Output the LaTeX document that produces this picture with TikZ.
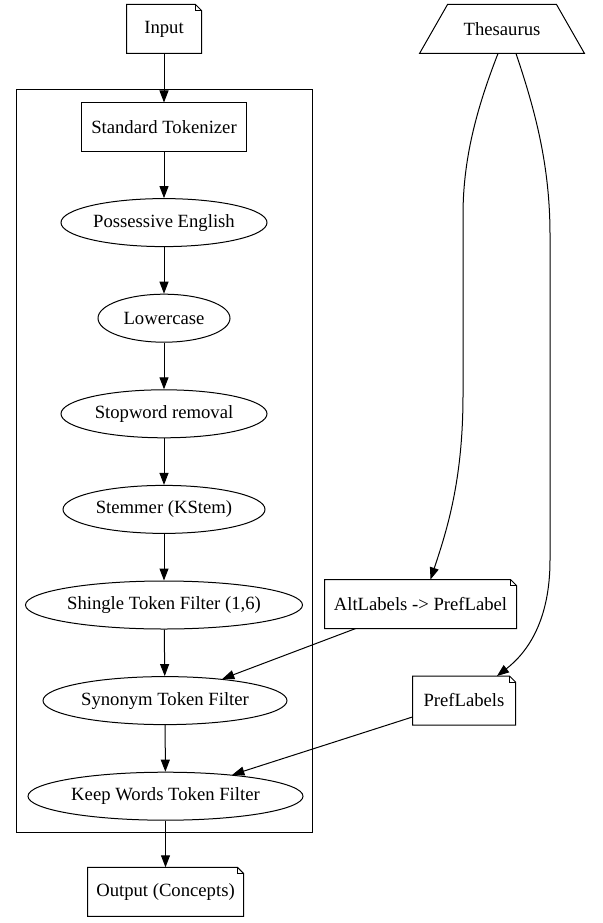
\documentclass[tikz,border=0pt]{standalone}
\usepackage{fontspec}
\setmainfont{Liberation Serif}
\usepackage{tikz}
\usetikzlibrary{
    arrows.meta,
    shapes.geometric
}

\begin{document}
\begin{tikzpicture}[x=1pt,y=-1pt,line width=1pt,
    every node/.style={font=\fontsize{18.67}{22}\selectfont},
    box/.style={draw,rectangle,minimum height=48pt,inner sep=0pt},
    doc/.style={rectangle,minimum height=48pt,inner sep=0pt},
    oval/.style={draw,ellipse,minimum height=48pt,inner sep=0pt},
    edge/.style={-{Triangle[length=12pt,width=9pt]}}]
\useasboundingbox[fill=white] (0,0) rectangle (602,923);

% pipeline
\draw (16,90) rectangle (312,832);

\node[doc,minimum width=74pt] (input) at (164,29) {Input};
\node[box,minimum width=165pt] (tok) at (164,127) {Standard Tokenizer};
\node[oval,minimum width=206pt] (poss) at (164,222.6) {Possessive English};
\node[oval,minimum width=132pt] (lower) at (164,318.2) {Lowercase};
\node[oval,minimum width=206pt] (stop) at (164,413.8) {Stopword removal};
\node[oval,minimum width=202pt] (stem) at (164,509.4) {Stemmer (KStem)};
\node[oval,minimum width=277pt] (shingle) at (164,605) {Shingle Token Filter (1,6)};
\node[oval,minimum width=244pt] (syn) at (165,700.6) {Synonym Token Filter};
\node[oval,minimum width=275pt] (keep) at (165.5,796.2) {Keep Words Token Filter};
\node[doc,minimum width=155pt] (output) at (165.5,891.8) {Output (Concepts)};

% thesaurus side
\node[doc,minimum width=164pt] (thes) at (502,29) {Thesaurus};
\draw (thes.south west) -- (thes.south east) -- ([xshift=-28pt]thes.north east)
    -- ([xshift=28pt]thes.north west) -- cycle;
\node[doc,minimum width=191pt] (alt) at (420.5,604) {AltLabels -> PrefLabel};
\node[doc,minimum width=102pt] (pref) at (464,700.5) {PrefLabels};

% folded corners
\foreach \n in {input,alt,pref,output}{
  \draw (\n.south west) -- (\n.south east) -- ([yshift=-6pt]\n.north east)
        -- ([xshift=-6pt]\n.north east) -- (\n.north west) -- cycle;
  \draw ([xshift=-6pt]\n.north east) -- ([xshift=-6pt,yshift=-6pt]\n.north east)
        -- ([yshift=-6pt]\n.north east);
}

\draw[edge] (input) -- (tok);
\draw[edge] (tok) -- (poss);
\draw[edge] (poss) -- (lower);
\draw[edge] (lower) -- (stop);
\draw[edge] (stop) -- (stem);
\draw[edge] (stem) -- (shingle);
\draw[edge] (shingle) -- (syn);
\draw[edge] (syn) -- (keep);
\draw[edge] (keep) -- (output);

\draw[edge] ([xshift=-4pt]thes.south) .. controls (476,110) and (463,160) .. (463,215)
    -- (463,395) .. controls (463,480) and (447,530) .. ([xshift=10pt]alt.north);
\draw[edge] ([xshift=14pt]thes.south) .. controls (535,110) and (550,165) .. (550,235)
    -- (550,560) .. controls (550,620) and (528,652) .. ([xshift=33pt]pref.north);
\draw[edge] (alt) -- (syn);
\draw[edge] (pref) -- (keep);
\end{tikzpicture}
\end{document}
